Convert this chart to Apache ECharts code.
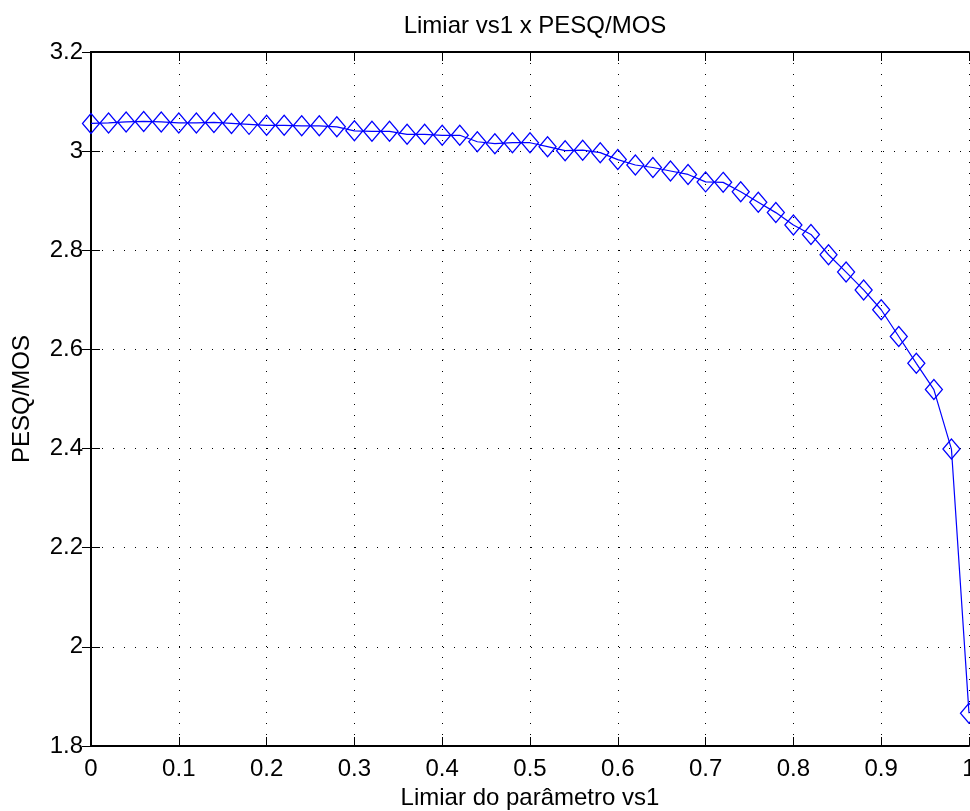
<!DOCTYPE html>
<html>
<head>
<meta charset="utf-8">
<script src="https://cdn.jsdelivr.net/npm/echarts@6/dist/echarts.min.js"></script>
<style>
  html, body { margin: 0; padding: 0; background: #fff; }
  #chart { width: 970px; height: 811px; }
</style>
</head>
<body>
<div id="chart"></div>
<script>
// Threshold values of the vs1 parameter
var thresholds = [
  0.00, 0.02, 0.04, 0.06, 0.08, 0.10, 0.12, 0.14, 0.16, 0.18,
  0.20, 0.22, 0.24, 0.26, 0.28, 0.30, 0.32, 0.34, 0.36, 0.38,
  0.40, 0.42, 0.44, 0.46, 0.48, 0.50, 0.52, 0.54, 0.56, 0.58,
  0.60, 0.62, 0.64, 0.66, 0.68, 0.70, 0.72, 0.74, 0.76, 0.78,
  0.80, 0.82, 0.84, 0.86, 0.88, 0.90, 0.92, 0.94, 0.96, 0.98,
  1.00
];

// PESQ/MOS score obtained for each threshold
var pesqMos = [
  3.056, 3.057, 3.059, 3.060, 3.059, 3.057, 3.057, 3.058, 3.056, 3.054,
  3.052, 3.052, 3.051, 3.051, 3.049, 3.041, 3.040, 3.040, 3.034, 3.034,
  3.032, 3.032, 3.019, 3.015, 3.017, 3.017, 3.009, 3.001, 3.002, 2.997,
  2.983, 2.972, 2.967, 2.960, 2.953, 2.938, 2.937, 2.918, 2.897, 2.876,
  2.851, 2.832, 2.791, 2.756, 2.720, 2.680, 2.626, 2.572, 2.519, 2.399,
  1.866
];

var xTicks = { min: 0, max: 1, interval: 0.1 };
var yTicks = { min: 1.8, max: 3.2, interval: 0.2 };

var titleText = 'Limiar vs1 x PESQ/MOS';
var xName = 'Limiar do parâmetro vs1';
var yName = 'PESQ/MOS';

var FONT = "'Liberation Sans', Arial, Helvetica, sans-serif";

var points = thresholds.map(function (t, i) { return [t, pesqMos[i]]; });

var gridLine = { show: true, lineStyle: { color: '#000', width: 1, type: [1, 10] } };
var axisLine = { show: true, lineStyle: { color: '#000', width: 2 } };
var tickIn = { show: true, inside: true, length: 9, lineStyle: { color: '#000', width: 1 } };

var chart = echarts.init(document.getElementById('chart'), null, { renderer: 'canvas' });

chart.setOption({
  animation: false,
  backgroundColor: '#fff',
  textStyle: { fontFamily: FONT },
  title: {
    text: titleText,
    left: 530,
    top: 9,
    textAlign: 'center',
    textStyle: { fontFamily: FONT, fontSize: 24, fontWeight: 'normal', color: '#000' }
  },
  grid: { left: 91, right: 1, top: 52, bottom: 65, containLabel: false, outerBoundsMode: 'none' },
  xAxis: [
    {
      type: 'value',
      min: xTicks.min, max: xTicks.max, interval: xTicks.interval,
      position: 'bottom',
      name: xName,
      nameLocation: 'middle',
      nameGap: 39,
      nameTextStyle: { fontFamily: FONT, fontSize: 24, color: '#000' },
      axisLine: axisLine,
      axisTick: tickIn,
      axisLabel: { show: true, margin: 11, fontFamily: FONT, fontSize: 24, color: '#000', showMaxLabel: true, showMinLabel: true },
      splitLine: gridLine
    },
    {
      type: 'value',
      min: xTicks.min, max: xTicks.max, interval: xTicks.interval,
      position: 'top',
      axisLine: axisLine,
      axisTick: tickIn,
      axisLabel: { show: false },
      splitLine: { show: false }
    }
  ],
  yAxis: [
    {
      type: 'value',
      min: yTicks.min, max: yTicks.max, interval: yTicks.interval,
      position: 'left',
      name: yName,
      nameLocation: 'middle',
      nameRotate: 90,
      nameGap: 57,
      nameTextStyle: { fontFamily: FONT, fontSize: 24, color: '#000' },
      axisLine: axisLine,
      axisTick: tickIn,
      axisLabel: { show: true, margin: 8, fontFamily: FONT, fontSize: 24, color: '#000', showMaxLabel: true, showMinLabel: true },
      splitLine: gridLine
    },
    {
      type: 'value',
      min: yTicks.min, max: yTicks.max, interval: yTicks.interval,
      position: 'right',
      axisLine: axisLine,
      axisTick: tickIn,
      axisLabel: { show: false },
      splitLine: { show: false }
    }
  ],
  series: [
    {
      type: 'line',
      xAxisIndex: 0,
      yAxisIndex: 0,
      data: points,
      symbol: 'diamond',
      symbolSize: [17, 20],
      showAllSymbol: true,
      clip: false,
      lineStyle: { color: '#0000ff', width: 1.2 },
      itemStyle: { color: 'rgba(0,0,0,0)', borderColor: '#0000ff', borderWidth: 1.3 },
      emphasis: { disabled: true }
    }
  ]
});
</script>
</body>
</html>
